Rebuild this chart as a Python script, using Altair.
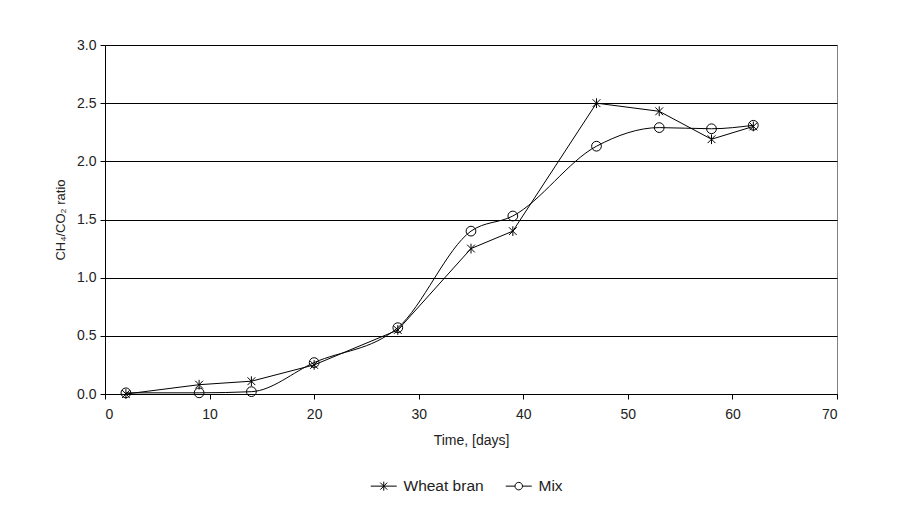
import altair as alt
import pandas as pd

days = [2, 9, 14, 20, 28, 35, 39, 47, 53, 58, 62]
wheat_bran = [0.00, 0.08, 0.11, 0.25, 0.55, 1.25, 1.40, 2.50, 2.43, 2.19, 2.30]
mix = [0.01, 0.01, 0.02, 0.27, 0.57, 1.40, 1.53, 2.13, 2.29, 2.28, 2.31]
series_names = ["Wheat bran", "Mix"]
x_ticks = [0, 10, 20, 30, 40, 50, 60, 70]
y_ticks = [0.0, 0.5, 1.0, 1.5, 2.0, 2.5, 3.0]

df_w = pd.DataFrame({"day": days, "ratio": wheat_bran, "series": series_names[0]})
df_m = pd.DataFrame({"day": days, "ratio": mix, "series": series_names[1]})
df = pd.concat([df_w, df_m], ignore_index=True)

FONT = "Liberation Sans"
ASTER = "M0,-1L0,1M-0.8,-0.8L0.8,0.8M-0.8,0.8L0.8,-0.8"
CIRC = "circle"
ASTER_L = "M-2.6,0L2.6,0M0,-0.9L0,0.9M-0.7,-0.7L0.7,0.7M-0.7,0.7L0.7,-0.7"
CIRC_L = "M-2.6,0L-0.75,0M0.75,0L2.6,0M-0.75,0A0.75,0.75 0 1,0 0.75,0A0.75,0.75 0 1,0 -0.75,0"

x_enc = alt.X("day:Q", scale=alt.Scale(domain=[0, 70], nice=False),
              axis=alt.Axis(values=x_ticks, title="Time, [days]", grid=False,
                            domainColor="black", tickColor="black", tickSize=5,
                            labelFont=FONT, labelFontSize=14, labelColor="#222",
                            titleFont=FONT, titleFontSize=14, titleFontWeight="normal",
                            titleColor="#222", labelPadding=8, titlePadding=12, format=".0f"))
y_enc = alt.Y("ratio:Q", scale=alt.Scale(domain=[0, 3], nice=False),
              axis=alt.Axis(values=y_ticks, title="CH₄/CO₂ ratio", grid=True,
                            gridColor="black", gridOpacity=1, gridWidth=1,
                            domainColor="black", tickColor="black", tickSize=5,
                            labelFont=FONT, labelFontSize=14, labelColor="#222",
                            titleFont=FONT, titleFontSize=13, titleFontWeight="normal",
                            titleColor="#222", format=".1f", labelPadding=4, titlePadding=9))

line_w = alt.Chart(df_w).mark_line(color="black", strokeWidth=1).encode(x=x_enc, y=y_enc)
line_m = alt.Chart(df_m).mark_line(color="black", strokeWidth=1, interpolate="monotone").encode(
    x="day:Q", y="ratio:Q")

pts = alt.Chart(df).mark_point(color="black", filled=False, strokeWidth=1, size=95, opacity=1).encode(
    x="day:Q", y="ratio:Q",
    shape=alt.Shape("series:N", scale=alt.Scale(domain=series_names, range=[ASTER, CIRC]), legend=None),
)

leg = alt.Chart(df).mark_point(color="black", filled=False, opacity=0, size=70).encode(
    x="day:Q", y="ratio:Q",
    shape=alt.Shape("series:N", sort=series_names,
                    scale=alt.Scale(domain=series_names, range=[ASTER_L, CIRC_L]),
                    legend=alt.Legend(title=None, orient="none", direction="horizontal",
                                      legendX=271, legendY=433,
                                      symbolOpacity=1, symbolStrokeColor="black",
                                      symbolFillColor="transparent", symbolStrokeWidth=1,
                                      symbolSize=100, labelFont=FONT, labelFontSize=15.5,
                                      labelColor="#222", columnPadding=19, symbolOffset=0,
                                      labelOffset=12)),
)

chart = alt.layer(line_w, line_m, pts, leg).resolve_scale(shape="independent").properties(
    width=732, height=349,
    padding={"left": 97, "top": 37, "right": 57, "bottom": 126},
    autosize=alt.AutoSizeParams(type="none"),
    background="white",
).configure_view(stroke="#808080", strokeWidth=1)

chart.save("out.html", embed_options={"renderer": "svg", "actions": False})
